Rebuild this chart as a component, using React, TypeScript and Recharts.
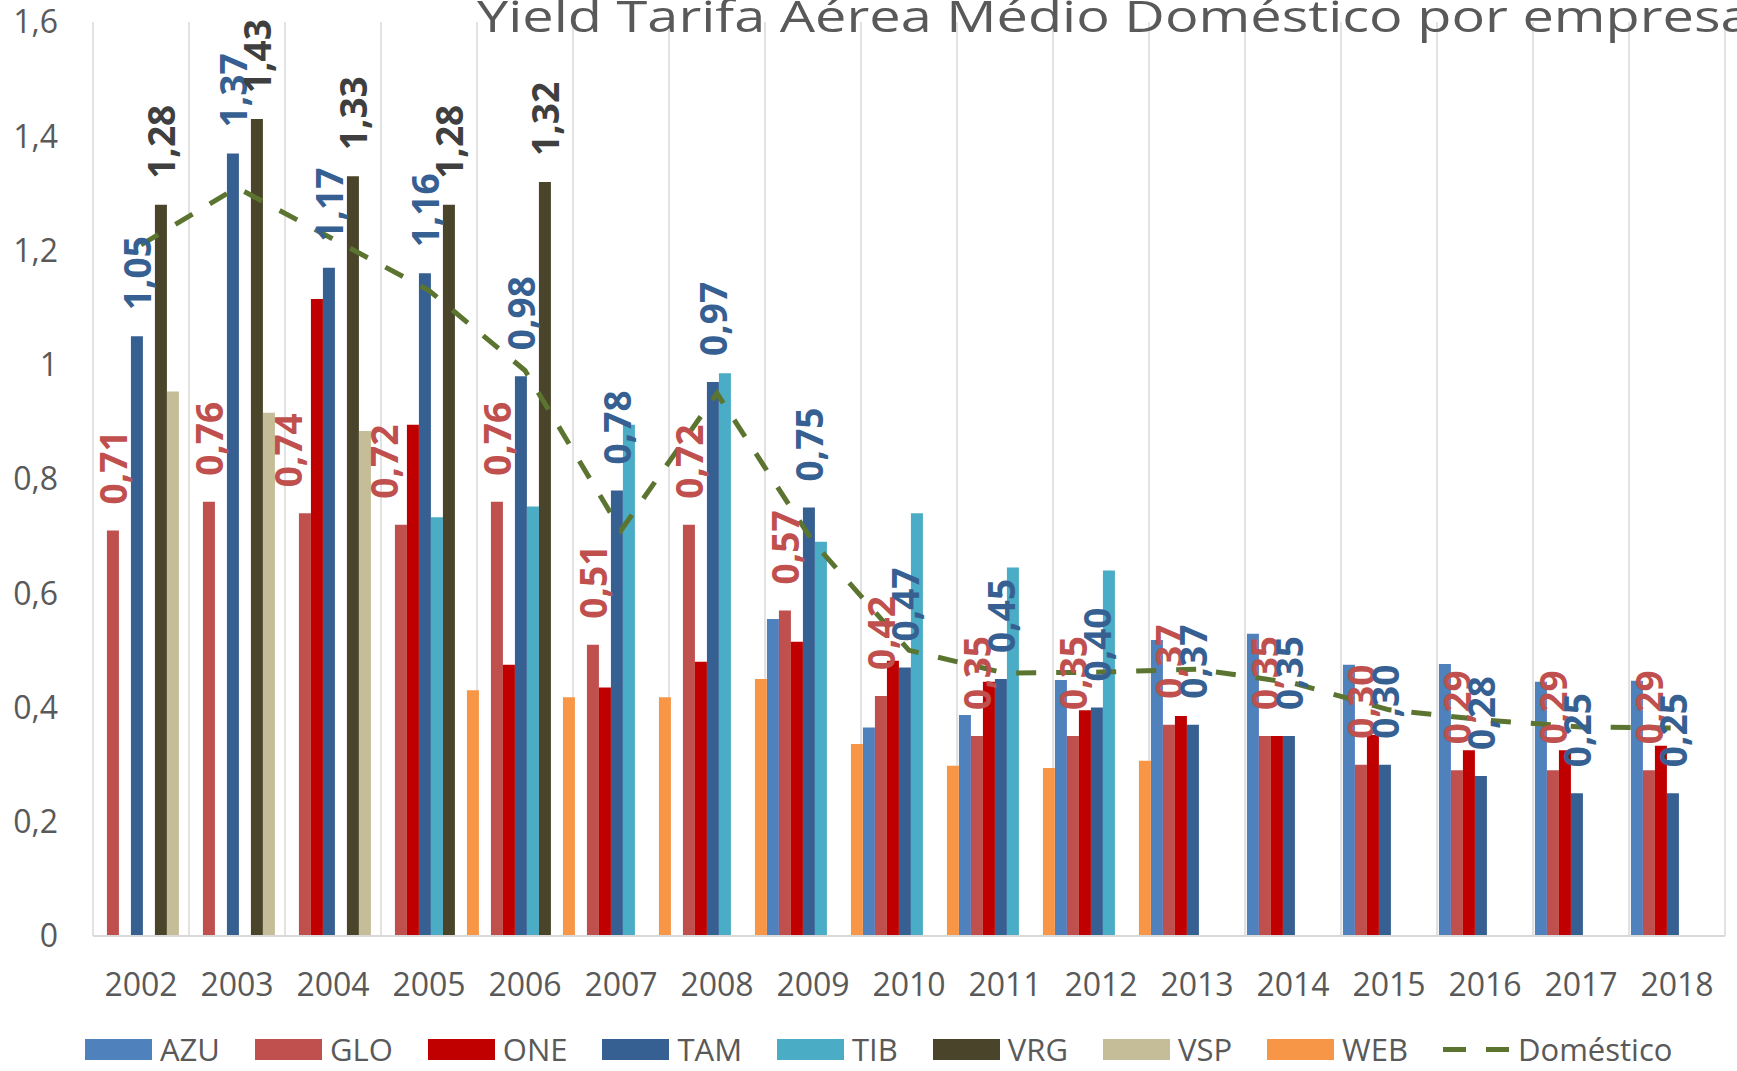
import React from 'react';
import { ComposedChart, Bar, Line, XAxis, YAxis, CartesianGrid, Legend, LabelList } from 'recharts';

const years = ['2002','2003','2004','2005','2006','2007','2008','2009','2010','2011','2012','2013','2014','2015','2016','2017','2018'];
const AZU = [null,null,null,null,null,null,null,0.555,0.365,0.387,0.448,0.518,0.529,0.475,0.476,0.445,0.447];
const GLO = [0.71,0.76,0.74,0.72,0.76,0.51,0.72,0.57,0.42,0.35,0.35,0.37,0.35,0.30,0.29,0.29,0.29];
const ONE = [null,null,1.115,0.895,0.475,0.435,0.48,0.515,0.482,0.445,0.395,0.385,0.35,0.352,0.325,0.325,0.333];
const TAM = [1.05,1.37,1.17,1.16,0.98,0.78,0.97,0.75,0.47,0.45,0.40,0.37,0.35,0.30,0.28,0.25,0.25];
const TIB = [null,null,null,0.733,0.752,0.895,0.985,0.69,0.74,0.645,0.64,null,null,null,null,null,null];
const VRG = [1.28,1.43,1.33,1.28,1.32,null,null,null,null,null,null,null,null,null,null,null,null];
const VSP = [0.953,0.916,0.884,null,null,null,null,null,null,null,null,null,null,null,null,null,null];
const WEB = [null,null,null,0.43,0.418,0.418,0.45,0.336,0.298,0.294,0.307,null,null,null,null,null,null];
const DOM = [1.21,1.31,1.22,1.13,0.99,0.71,0.95,0.69,0.50,0.46,0.462,0.467,0.443,0.396,0.378,0.366,0.364];
const yTicks = [0,0.2,0.4,0.6,0.8,1,1.2,1.4,1.6];

const series = [
  { key: 'AZU', values: AZU, color: '#4F81BD' },
  { key: 'GLO', values: GLO, color: '#C0504D', label: '#C0504D' },
  { key: 'ONE', values: ONE, color: '#C00000' },
  { key: 'TAM', values: TAM, color: '#376092', label: '#376092' },
  { key: 'TIB', values: TIB, color: '#4BACC6' },
  { key: 'VRG', values: VRG, color: '#4A452A', label: '#3F3F3F' },
  { key: 'VSP', values: VSP, color: '#C4BD97' },
  { key: 'WEB', values: WEB, color: '#F79646' },
];
// manual nudges of a few data labels (as in the original chart)
const labelNudge: Record<string, number> = { 'GLO-2004': -17, 'GLO-2005': -17 };

const lineColor = '#5B7530';
const textColor = '#595959';
const FONT = '"Open Sans", sans-serif';

const data = years.map((y, i) => {
  const row: any = { year: y, dom: DOM[i] };
  series.forEach((s) => { row[s.key] = s.values[i]; });
  return row;
});

const fmt = (v: number) => {
  if (v === 0) return '0';
  const s = (Math.round(v * 10) / 10).toString();
  return s.replace('.', ',');
};

const makeLabel = (key: string, color: string) => (props: any) => {
  const { x, y, width, value, index } = props;
  if (value === null || value === undefined) return null;
  const nudge = labelNudge[`${key}-${years[index]}`] || 0;
  const cx = Number(x) + Number(width) / 2 + nudge;
  const cy = Number(y) - 26;
  return (
    <text
      x={cx}
      y={cy}
      transform={`rotate(-90, ${cx}, ${cy})`}
      textAnchor="start"
      dominantBaseline="central"
      fill={color}
      fontFamily={FONT}
      fontWeight={700}
      fontSize={37}
    >
      {Number(value).toFixed(2).replace('.', ',')}
    </text>
  );
};

const renderLegend = () => (
  <div style={{ display: 'flex', alignItems: 'center', paddingLeft: 85, fontFamily: FONT, fontSize: 31, color: textColor, lineHeight: '42px', height: 42 }}>
    {series.map((s) => (
      <div key={s.key} style={{ display: 'flex', alignItems: 'center', marginRight: 35 }}>
        <div style={{ width: 67, height: 21, background: s.color }} />
        <span style={{ marginLeft: 8 }}>{s.key}</span>
      </div>
    ))}
    <div style={{ display: 'flex', alignItems: 'center' }}>
      <svg width={67} height={21}>
        <line x1={0} y1={10.5} x2={67} y2={10.5} stroke={lineColor} strokeWidth={5} strokeDasharray="23 20" />
      </svg>
      <span style={{ marginLeft: 8 }}>Doméstico</span>
    </div>
  </div>
);

export default function App() {
  return (
    <div style={{ position: 'absolute', left: 0, top: 0, width: 1737, height: 1071, background: '#fff', overflow: 'hidden' }}>
      <ComposedChart
        width={1737}
        height={1071}
        data={data}
        margin={{ top: 22, right: 12, left: 0, bottom: 0 }}
        barCategoryGap="2%"
        barGap={0}
      >
        <CartesianGrid
          horizontal={false}
          stroke="#D9D9D9"
          strokeWidth={1.5}
          verticalCoordinatesGenerator={(p: any) => {
            const off = p.offset;
            const n = years.length;
            const w = off.width / n;
            return Array.from({ length: n + 1 }, (_, i) => off.left + i * w);
          }}
        />
        <XAxis
          dataKey="year"
          interval={0}
          height={135}
          tickLine={false}
          tickSize={0}
          tickMargin={37}
          axisLine={{ stroke: '#D9D9D9', strokeWidth: 2 }}
          tick={{ fill: textColor, fontSize: 32, fontFamily: FONT }}
        />
        <YAxis
          domain={[0, 1.6]}
          ticks={yTicks}
          width={93}
          axisLine={false}
          tickLine={false}
          tickSize={0}
          tickMargin={35}
          tickFormatter={fmt}
          tick={{ fill: textColor, fontSize: 32, fontFamily: FONT }}
        />
        {series.map((s) => (
          <Bar key={s.key} dataKey={s.key} name={s.key} fill={s.color} isAnimationActive={false}>
            {s.label ? <LabelList dataKey={s.key} content={makeLabel(s.key, s.label)} /> : null}
          </Bar>
        ))}
        <Line
          type="linear"
          dataKey="dom"
          name="Doméstico"
          stroke={lineColor}
          strokeWidth={5}
          strokeDasharray="20 20"
          dot={false}
          activeDot={false}
          isAnimationActive={false}
        />
        <Legend
          verticalAlign="middle"
          align="center"
          layout="horizontal"
          wrapperStyle={{ top: 1028, left: 0, width: 1737, height: 42 }}
          content={renderLegend}
        />
      </ComposedChart>
      <svg width={1737} height={60} style={{ position: 'absolute', left: 0, top: 0, pointerEvents: 'none' }}>
        <text transform="translate(477,32) scale(1.3,1)" x={0} y={0} fill={textColor} fontFamily={FONT} fontSize={43}>
          Yield Tarifa Aérea Médio Doméstico por empresa
        </text>
      </svg>
    </div>
  );
}
